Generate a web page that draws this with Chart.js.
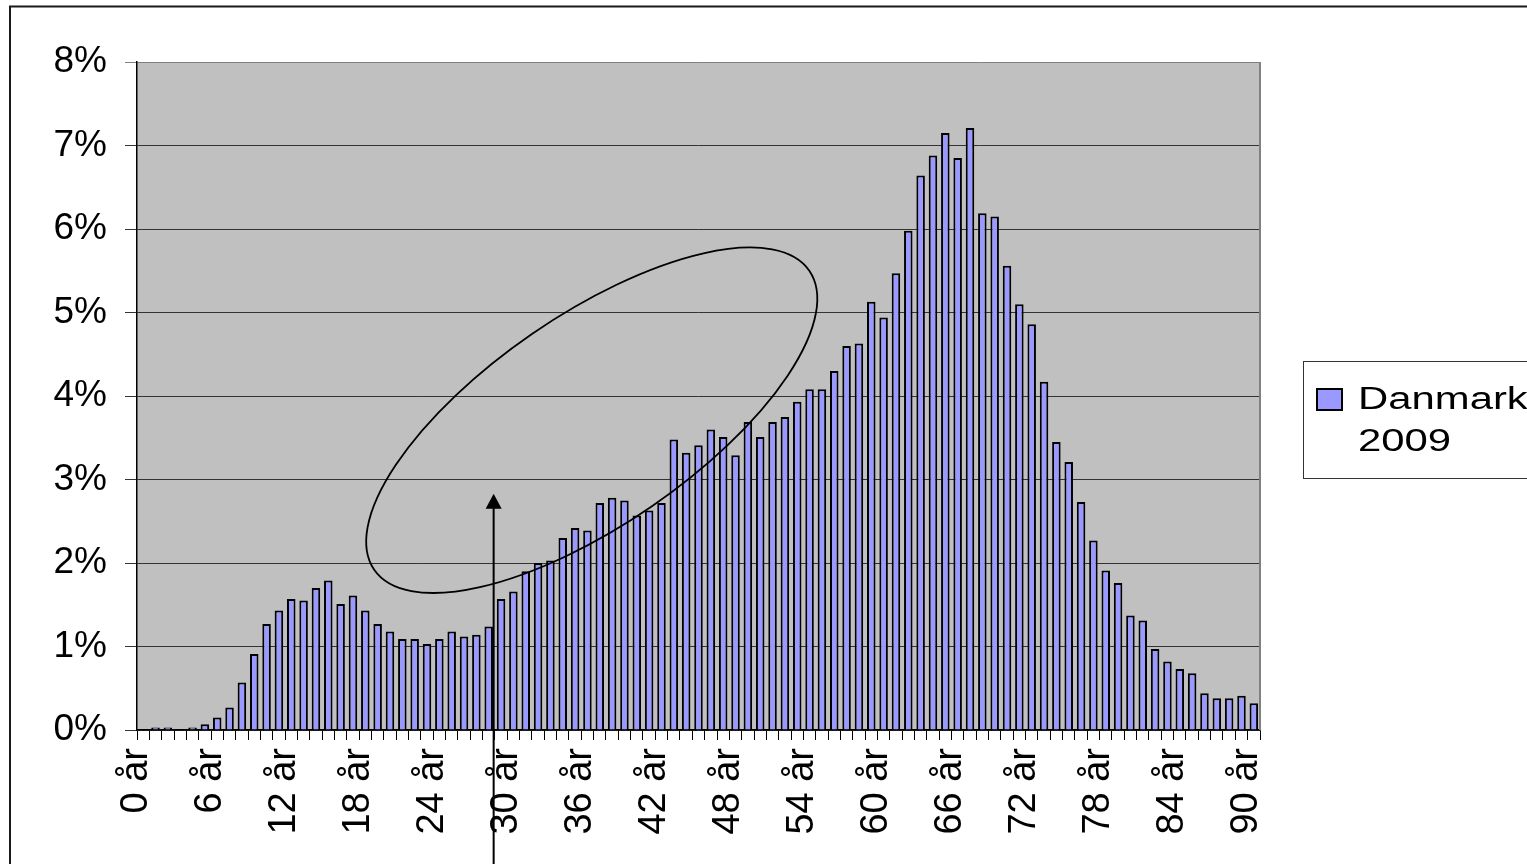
<!DOCTYPE html>
<html>
<head>
<meta charset="utf-8">
<title>Danmark 2009</title>
<script src="https://cdn.jsdelivr.net/npm/chart.js@4.4.1/dist/chart.umd.min.js"></script>
<style>
    html, body { margin: 0; padding: 0; background: #ffffff; }
    canvas { display: block; }
</style>
</head>
<body>
<canvas id="myChart" width="1527" height="864"></canvas>
<script>
// Age categories 0 år .. 90 år, only every 6th one gets a label
const ages = [];
for (let i = 0; i <= 90; i++) {
    ages.push(i + ' år');
}
const labelEvery = 6;

// Share per age (percent)
const seriesLabel = 'Danmark 2009';
const shares = [
    0.00, 0.03, 0.03, 0.00, 0.03, 0.07, 0.15, 0.27, 0.57, 0.91,
    1.27, 1.43, 1.57, 1.55, 1.70, 1.79, 1.51, 1.61, 1.43, 1.27,
    1.18, 1.09, 1.09, 1.03, 1.09, 1.18, 1.12, 1.14, 1.24, 1.57,
    1.66, 1.90, 2.00, 2.03, 2.30, 2.42, 2.39, 2.72, 2.78, 2.75,
    2.57, 2.63, 2.72, 3.48, 3.32, 3.41, 3.60, 3.51, 3.29, 3.69,
    3.51, 3.69, 3.75, 3.93, 4.08, 4.08, 4.30, 4.60, 4.63, 5.13,
    4.94, 5.47, 5.98, 6.64, 6.88, 7.15, 6.85, 7.21, 6.19, 6.15,
    5.56, 5.10, 4.86, 4.17, 3.45, 3.21, 2.73, 2.27, 1.91, 1.76,
    1.37, 1.31, 0.97, 0.82, 0.73, 0.68, 0.44, 0.38, 0.38, 0.41,
    0.32
];

// Y axis range in percent
const yMin = 0;
const yMax = 8;
const yStep = 1;

// Hand drawn marks on the chart (in data units: category index / percent)
const ellipseCenter = { x: 36.35, y: 3.71 };
const arrowAt = { x: 28.4, tipY: 2.83 };

const fontFamily = '"Liberation Sans", Arial, sans-serif';
const barColor = '#9999ff';

// Background, plot area and outer frame
const backgroundPlugin = {
    id: 'background',
    beforeDraw(chart) {
        const ctx = chart.ctx;
        const a = chart.chartArea;
        ctx.save();
        ctx.fillStyle = '#ffffff';
        ctx.fillRect(0, 0, chart.width, chart.height);
        ctx.fillStyle = '#c0c0c0';
        ctx.fillRect(a.left, a.top, a.right - a.left, a.bottom - a.top);
        ctx.strokeStyle = '#1a1a1a';
        ctx.lineWidth = 2;
        ctx.strokeRect(10, 6.5, chart.width + 50, chart.height + 50);
        ctx.restore();
    },
    afterDraw(chart) {
        // grey right edge of the plot area
        const ctx = chart.ctx;
        const a = chart.chartArea;
        ctx.save();
        ctx.strokeStyle = '#808080';
        ctx.lineWidth = 2;
        ctx.beginPath();
        ctx.moveTo(a.right, a.top);
        ctx.lineTo(a.right, a.bottom);
        ctx.stroke();
        ctx.restore();
    }
};

// Ellipse and arrow drawn over the bars
const annotationPlugin = {
    id: 'annotations',
    afterDatasetsDraw(chart) {
        const ctx = chart.ctx;
        const x = chart.scales.x;
        const y = chart.scales.y;
        ctx.save();
        ctx.strokeStyle = '#000000';
        ctx.lineWidth = 1.8;
        ctx.beginPath();
        ctx.ellipse(x.getPixelForValue(ellipseCenter.x), y.getPixelForValue(ellipseCenter.y),
            264, 105, -34.5 * Math.PI / 180, 0, Math.PI * 2);
        ctx.stroke();

        const ax = x.getPixelForValue(arrowAt.x);
        const tip = y.getPixelForValue(arrowAt.tipY);
        ctx.lineWidth = 2;
        ctx.beginPath();
        ctx.moveTo(ax, chart.height);
        ctx.lineTo(ax, tip + 14);
        ctx.stroke();
        ctx.fillStyle = '#000000';
        ctx.beginPath();
        ctx.moveTo(ax, tip);
        ctx.lineTo(ax - 8, tip + 15);
        ctx.lineTo(ax + 8, tip + 15);
        ctx.closePath();
        ctx.fill();
        ctx.restore();
    }
};

// Legend box on the right, text is wide like in the original
const legendPlugin = {
    id: 'boxLegend',
    afterDraw(chart) {
        const ctx = chart.ctx;
        const ds = chart.data.datasets[0];
        const left = chart.chartArea.right + 43;
        const top = 361;
        ctx.save();
        ctx.fillStyle = '#ffffff';
        ctx.fillRect(left, top, 400, 117);
        ctx.strokeStyle = '#333333';
        ctx.lineWidth = 1;
        ctx.strokeRect(left + 0.5, top + 0.5, 400, 117);

        ctx.fillStyle = ds.backgroundColor;
        ctx.fillRect(left + 14, top + 28, 25, 21);
        ctx.strokeStyle = '#000000';
        ctx.lineWidth = 2;
        ctx.strokeRect(left + 14, top + 28, 25, 21);

        const words = ds.label.split(' ');
        ctx.fillStyle = '#000000';
        ctx.font = '31px ' + fontFamily;
        ctx.textBaseline = 'alphabetic';
        words.forEach((w, i) => {
            ctx.save();
            ctx.translate(left + 55, top + 48 + i * 42);
            ctx.scale(1.35, 1);
            ctx.fillText(w, 0, 0);
            ctx.restore();
        });
        ctx.restore();
    }
};

const ctx = document.getElementById('myChart').getContext('2d');
const chart = new Chart(ctx, {
    type: 'bar',
    data: {
        labels: ages,
        datasets: [
            {
                label: seriesLabel,
                data: shares,
                backgroundColor: barColor,
                borderColor: '#000000',
                borderWidth: 2,
                categoryPercentage: 1,
                barPercentage: 0.69
            }
        ]
    },
    options: {
        responsive: false,
        animation: false,
        devicePixelRatio: 1,
        layout: {
            padding: { left: 0, top: 62, right: 267, bottom: 0 }
        },
        plugins: {
            legend: { display: false },
            tooltip: { enabled: false }
        },
        scales: {
            x: {
                offset: true,
                grid: {
                    offset: true,
                    drawOnChartArea: false,
                    drawTicks: true,
                    tickLength: 10,
                    color: '#000000',
                    lineWidth: 1
                },
                border: { color: '#000000', width: 1.5 },
                ticks: {
                    autoSkip: false,
                    minRotation: 90,
                    maxRotation: 90,
                    padding: 8,
                    labelOffset: -7,
                    color: '#000000',
                    font: { family: fontFamily, size: 38 },
                    callback: function (value, index) {
                        return index % labelEvery === 0 ? ages[index] : '';
                    }
                },
                afterFit(scale) {
                    scale.height = 134;
                }
            },
            y: {
                min: yMin,
                max: yMax,
                grid: {
                    tickLength: 12,
                    lineWidth: 1,
                    color: (c) => (c.tick && c.tick.value === yMax ? '#808080' : '#333333')
                },
                border: { color: '#000000', width: 1.5 },
                ticks: {
                    stepSize: yStep,
                    padding: 18,
                    color: '#000000',
                    font: { family: fontFamily, size: 37 },
                    callback: (v) => v + '%'
                },
                afterFit(scale) {
                    scale.width = 137;
                }
            }
        }
    },
    plugins: [backgroundPlugin, annotationPlugin, legendPlugin]
});
</script>
</body>
</html>
